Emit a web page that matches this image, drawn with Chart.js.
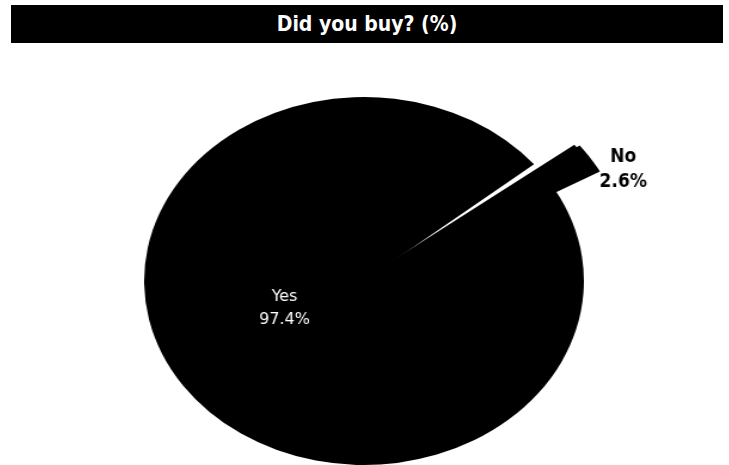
<!DOCTYPE html>
<html>
<head>
<meta charset="utf-8">
<script src="https://cdn.jsdelivr.net/npm/chart.js@4.4.0/dist/chart.umd.min.js"></script>
<style>
  html, body { margin: 0; padding: 0; background: #fff; width: 729px; height: 465px; overflow: hidden; position: relative; }
  #title {
    position: absolute; left: 11px; top: 5px; width: 712px; height: 38px;
    background: #000; color: #fff; text-align: center;
    font: bold 21px "DejaVu Sans Condensed", "DejaVu Sans", sans-serif;
    line-height: 38px;
  }
  /* the pie is drawn round and stretched sideways into an oval */
  #wrap {
    position: absolute; left: 114px; top: 31px; width: 500px; height: 500px;
    transform: scaleX(1.195); transform-origin: 250px 250px;
  }
</style>
</head>
<body>
<div id="title">Did you buy? (%)</div>
<div id="wrap"><canvas id="c" width="500" height="500"></canvas></div>
<script>
const categories = ['Yes', 'No'];
const values = [97.4, 2.6];
const valueLabels = ['97.4%', '2.6%'];

const STRETCH = 1.195;
const EXTRA_TURN = 0.5 * Math.PI / 180;

// How ArcElement moves and grows a slice that has an offset
function explodeGeometry(arc) {
  const shift = (arc.options.offset || 0) / 4;
  const grow = shift * (1 - Math.sin(Math.min(Math.PI, arc.circumference)));
  const R = arc.outerRadius + grow;
  // the arc path trims this much angle off each side of an offset slice
  const trim = (grow / Math.PI) / R / 2;
  return { shift, grow, trim };
}

// Turn the exploded slice so it sits flush against the slice after it,
// leaving one tapering gap on its leading side
const flushExplode = {
  id: 'flushExplode',
  beforeDatasetsDraw(chart) {
    chart.getDatasetMeta(0).data.forEach(arc => {
      if (!arc.options.offset || arc._flush) return;
      const baseDraw = arc.draw.bind(arc);
      arc.draw = function (ctx) {
        const { trim } = explodeGeometry(this);
        ctx.save();
        // long enough for the narrow tip, short enough to keep the outer corners square
        ctx.miterLimit = 16;
        ctx.translate(this.x, this.y);
        ctx.rotate(trim + EXTRA_TURN);
        ctx.translate(-this.x, -this.y);
        baseDraw(ctx);
        ctx.restore();
      };
      arc._flush = true;
    });
  }
};

// Category + percentage labels, drawn unstretched on top of the oval pie
const sliceLabels = {
  id: 'sliceLabels',
  afterDatasetsDraw(chart) {
    const ctx = chart.ctx;
    const meta = chart.getDatasetMeta(0);
    meta.data.forEach((arc, i) => {
      const mid = (arc.startAngle + arc.endAngle) / 2;
      const { shift, grow } = explodeGeometry(arc);
      let px, py, dx, dy, color, font, gap;
      if (i === 0) {
        const a = mid + 12.6 * Math.PI / 180;
        const r = arc.outerRadius * 0.39;
        px = arc.x + r * Math.cos(a);
        py = arc.y + r * Math.sin(a);
        dx = 0; dy = 0;
        color = '#fff';
        font = '16px "DejaVu Sans", sans-serif';
        gap = 23;
      } else {
        const R = arc.outerRadius + grow;
        px = arc.x + shift * Math.cos(mid) + R * Math.cos(arc.endAngle);
        py = arc.y + shift * Math.sin(mid) + R * Math.sin(arc.endAngle);
        dx = 30; dy = 1;
        color = '#000';
        font = 'bold 19px "DejaVu Sans Condensed", "DejaVu Sans", sans-serif';
        gap = 25;
      }
      ctx.save();
      ctx.translate(px, py);
      ctx.scale(1 / STRETCH, 1);
      ctx.fillStyle = color;
      ctx.font = font;
      ctx.textAlign = 'center';
      ctx.textBaseline = 'middle';
      ctx.fillText(categories[i], dx, dy - gap / 2);
      ctx.fillText(valueLabels[i], dx, dy + gap / 2);
      ctx.restore();
    });
  }
};

new Chart(document.getElementById('c'), {
  type: 'pie',
  data: {
    labels: categories,
    datasets: [{
      data: values,
      backgroundColor: ['#000', '#000'],
      borderColor: ['#000', '#000'],
      borderWidth: [0, 6.5],
      borderJoinStyle: 'miter',
      offset: [0, 84]
    }]
  },
  options: {
    responsive: false,
    animation: false,
    radius: 184,
    rotation: 60.0,
    layout: { padding: 0 },
    plugins: { legend: { display: false }, tooltip: { enabled: false } }
  },
  plugins: [flushExplode, sliceLabels]
});
</script>
</body>
</html>
